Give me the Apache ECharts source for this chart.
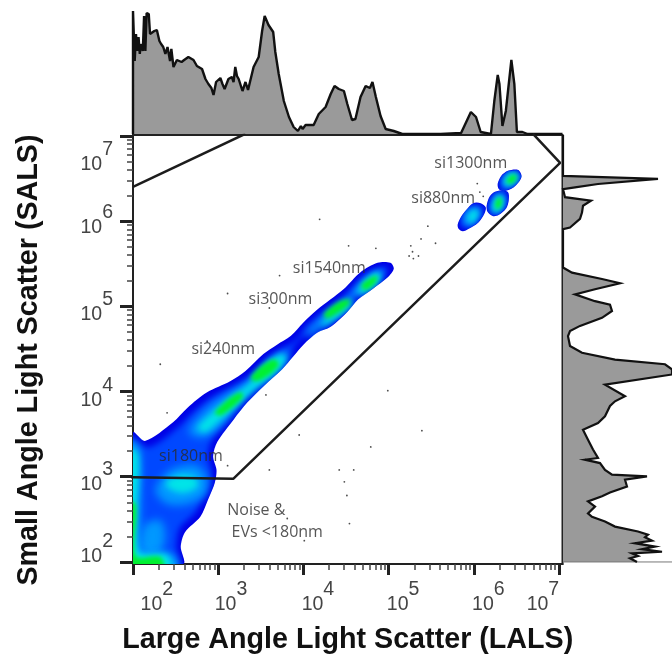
<!DOCTYPE html>
<html><head><meta charset="utf-8">
<style>html,body{margin:0;padding:0;background:#fff}#c{width:672px;height:662px}</style>
<script src="https://cdn.jsdelivr.net/npm/echarts@6/dist/echarts.min.js"></script>
</head><body><div id="c"></div>
<script>
// Axis decades (log10 of scatter signal) and tick labels
const xRange = [2, 7.04];
const yRange = [1.976, 7.01];
const decades = [2, 3, 4, 5, 6, 7];
const minorSteps = [0.301, 0.477, 0.602, 0.699, 0.778, 0.845, 0.903, 0.954];
const xLabelPos = [2.28, 3.15, 4.17, 5.17, 6.17, 6.81];
const yLabelPos = [2.15, 2.99, 3.98, 4.99, 6.0, 6.74];
const exponents = [2, 3, 4, 5, 6, 7];
const xTitle = 'Large Angle Light Scatter (LALS)';
const yTitle = 'Small Angle Light Scatter (SALS)';

// Top histogram: [log10 LALS, counts]
const topHist = [[2,0],[2,123],[2.02,73],[2.035,100],[2.05,83],[2.065,97],[2.08,80],[2.09,90],[2.115,83],[2.13,118],[2.145,83],[2.16,121],[2.185,120],[2.2,100],[2.25,103],[2.28,104],[2.31,93],[2.33,90],[2.355,87],[2.38,80],[2.405,87],[2.435,73],[2.45,85],[2.475,67],[2.515,74],[2.57,72],[2.6,74],[2.65,77],[2.71,74],[2.75,68],[2.77,70],[2.81,65],[2.85,55],[2.885,50],[2.92,46],[2.945,39],[2.975,52],[3.025,56],[3.05,50],[3.075,45],[3.12,55],[3.16,57],[3.18,52],[3.2,67],[3.22,58],[3.24,55],[3.285,43],[3.32,52],[3.35,44],[3.37,43],[3.415,67],[3.475,77],[3.515,103],[3.545,118],[3.59,109],[3.645,102],[3.67,82],[3.71,60],[3.77,33],[3.83,17],[3.885,7],[3.935,3],[3.97,8],[3.99,5],[4.025,9],[4.12,9],[4.18,20],[4.26,27],[4.32,40],[4.365,48],[4.415,45],[4.475,43],[4.515,30],[4.57,14],[4.61,15],[4.67,37],[4.73,48],[4.78,46],[4.81,52],[4.85,37],[4.905,18],[4.965,5],[5.06,3],[5.16,0],[5.61,0],[5.85,1],[5.965,22],[6.025,17],[6.08,2],[6.2,0],[6.24,33],[6.28,59],[6.3,50],[6.335,8],[6.375,23],[6.44,74],[6.475,50],[6.505,2],[6.57,2],[6.63,0],[7.04,0]];

// Right histogram: [counts, log10 SALS]
const rightHist = [[74,2],[67,2.043],[75,2.07],[69,2.1],[99,2.12],[79,2.15],[92,2.18],[72,2.22],[89,2.25],[82,2.29],[85,2.32],[75,2.357],[52,2.415],[42,2.475],[29,2.53],[25,2.57],[32,2.65],[25,2.71],[39,2.77],[47,2.815],[64,2.885],[62,2.965],[84,3.005],[49,3.024],[42,3.08],[37,3.16],[22,3.2],[35,3.22],[30,3.32],[25,3.435],[20,3.55],[35,3.63],[42,3.71],[47,3.83],[52,3.885],[62,3.945],[42,4.08],[109,4.2],[109,4.26],[102,4.32],[52,4.375],[19,4.455],[7,4.535],[5,4.65],[7,4.71],[17,4.77],[39,4.865],[49,4.945],[47,5.02],[32,5.06],[12,5.14],[32,5.2],[57,5.27],[39,5.32],[9,5.395],[0,5.455],[0,5.905],[7,5.925],[17,6.025],[19,6.1],[20,6.18],[28,6.24],[2,6.28],[0,6.375],[12,6.395],[35,6.435],[95,6.495],[0,6.53],[0,7.01]];
const rightBase = [[0,2],[109,2]];

// Gates (log10 LALS, log10 SALS)
const mainGate = [[1.86,2.99],[2,2.994],[3.176,2.976],[7.012,6.682],[6.694,7.024]];
const upperGate = [[2,6.4],[3.318,7.024]];

// Density contours, outer level to peak
const level1 = [
 [[2,1.976],[2,3.52],[2.14,3.42],[2.47,3.64],[2.64,3.81],[2.87,3.99],[3.14,4.12],[3.32,4.24],[3.53,4.44],[3.69,4.55],[3.85,4.65],[4,4.81],[4.16,4.96],[4.47,5.2],[4.67,5.4],[4.87,5.51],[5.02,5.51],[5.06,5.44],[4.99,5.34],[4.82,5.21],[4.64,5.08],[4.52,4.94],[4.32,4.76],[4.16,4.69],[4,4.55],[3.88,4.41],[3.75,4.26],[3.53,4.06],[3.34,3.87],[3.18,3.67],[2.99,3.41],[2.94,3.24],[2.98,3.08],[2.96,2.93],[2.88,2.73],[2.79,2.53],[2.61,2.35],[2.56,2.18],[2.59,1.976]],
 [[5.81,5.96],[5.85,6.05],[5.91,6.13],[5.99,6.21],[6.08,6.21],[6.14,6.16],[6.12,6.08],[6.05,5.98],[5.94,5.91],[5.87,5.88],[5.82,5.91]],
 [[6.15,6.18],[6.18,6.28],[6.24,6.34],[6.32,6.36],[6.4,6.34],[6.41,6.25],[6.38,6.15],[6.29,6.07],[6.22,6.06],[6.16,6.11]],
 [[6.28,6.44],[6.32,6.53],[6.4,6.59],[6.52,6.6],[6.56,6.53],[6.53,6.46],[6.46,6.39],[6.35,6.35],[6.29,6.38]]
];
const level2 = [
 [[1.9,1.9],[1.9,3.4],[2.2,3.35],[2.53,3.58],[2.69,3.74],[2.93,3.93],[3.19,4.06],[3.38,4.18],[3.58,4.38],[3.74,4.49],[3.89,4.59],[4.05,4.75],[4.21,4.91],[4.52,5.14],[4.71,5.34],[4.91,5.45],[4.99,5.45],[4.95,5.38],[4.79,5.26],[4.59,5.12],[4.47,4.98],[4.27,4.81],[4.12,4.74],[3.95,4.6],[3.84,4.46],[3.71,4.31],[3.48,4.11],[3.29,3.92],[3.12,3.69],[2.93,3.44],[2.88,3.24],[2.92,3.08],[2.91,2.93],[2.82,2.75],[2.73,2.58],[2.55,2.4],[2.51,2.18],[2.51,1.9]],
 [[5.85,5.95],[5.9,6.1],[6,6.17],[6.09,6.16],[6.08,6.06],[5.95,5.93]],
 [[6.19,6.16],[6.24,6.3],[6.33,6.33],[6.38,6.25],[6.31,6.11],[6.23,6.09]],
 [[6.32,6.44],[6.38,6.55],[6.5,6.57],[6.54,6.52],[6.46,6.42],[6.36,6.38]]
];
const level3 = [
 [[2.65,3.53],[2.85,3.79],[3.08,3.96],[3.38,4.14],[3.64,4.38],[3.79,4.47],[3.85,4.46],[3.76,4.32],[3.55,4.12],[3.32,3.93],[3.12,3.69],[2.96,3.53],[2.79,3.46]],
 [[4.02,4.69],[4.2,4.85],[4.49,5.08],[4.69,5.29],[4.88,5.41],[4.94,5.4],[4.85,5.28],[4.61,5.12],[4.44,4.94],[4.22,4.76],[4.08,4.65]],
 [[2.26,2.85],[2.44,3.08],[2.73,3.14],[2.87,2.99],[2.85,2.79],[2.61,2.67],[2.38,2.69]],
 [[2.08,2.2],[2.14,2.44],[2.32,2.49],[2.38,2.32],[2.32,2.11],[2.14,2.08]],
 [[1.9,3.44],[2.07,3.38],[2.09,2.49],[2.11,2.12],[2.49,2.08],[2.53,1.9],[1.9,1.9]],
 [[5.87,6],[5.93,6.13],[6.01,6.16],[6.07,6.13],[6.04,6.04],[5.94,5.95]],
 [[6.2,6.16],[6.25,6.29],[6.32,6.33],[6.36,6.27],[6.32,6.15],[6.25,6.09]],
 [[6.33,6.45],[6.39,6.54],[6.48,6.56],[6.53,6.53],[6.47,6.45],[6.38,6.41]]
];
const level4 = [
 [[2.76,3.58],[3.08,3.87],[3.35,4.08],[3.59,4.35],[3.75,4.44],[3.8,4.38],[3.67,4.21],[3.44,4.04],[3.2,3.82],[2.96,3.61],[2.84,3.52]],
 [[4.22,4.81],[4.45,5.02],[4.58,5.08],[4.55,4.99],[4.38,4.85],[4.22,4.76]],
 [[4.62,5.16],[4.81,5.38],[4.91,5.39],[4.88,5.28],[4.69,5.14]],
 [[2.38,2.93],[2.55,3.02],[2.73,2.99],[2.76,2.88],[2.59,2.81],[2.44,2.85]],
 [[1.9,3.32],[2.06,3.27],[2.06,2.13],[2.4,2.09],[2.44,1.9],[1.9,1.9]],
 [[5.92,6.03],[5.98,6.13],[6.05,6.13],[6.04,6.04],[5.96,5.97]],
 [[6.22,6.17],[6.27,6.29],[6.33,6.3],[6.35,6.21],[6.29,6.11],[6.22,6.11]],
 [[6.35,6.45],[6.4,6.55],[6.49,6.57],[6.53,6.52],[6.46,6.44],[6.38,6.4]]
];
const level5 = [
 [[2.96,3.75],[3.12,3.91],[3.26,3.99],[3.29,3.94],[3.16,3.81],[3.02,3.72]],
 [[3.38,4.16],[3.52,4.31],[3.66,4.38],[3.71,4.31],[3.59,4.19],[3.45,4.12]],
 [[4.24,4.91],[4.41,5.05],[4.54,5.08],[4.52,5.01],[4.35,4.89],[4.27,4.86]],
 [[4.68,5.25],[4.82,5.35],[4.87,5.35],[4.84,5.27],[4.72,5.19]],
 [[1.9,2.73],[2.03,2.67],[2.03,2.07],[2.32,2.06],[2.36,1.9],[1.9,1.9]],
 [[6.25,6.19],[6.28,6.27],[6.32,6.27],[6.32,6.18],[6.27,6.14]],
 [[6.38,6.46],[6.43,6.53],[6.49,6.54],[6.5,6.5],[6.44,6.44]]
];

// Sparse events
const events = [[4.19,6.02],[4.53,5.71],[4.85,5.68],[5.46,5.94],[5.38,5.79],[5.26,5.71],[5.55,5.74],[5.28,5.64],[5.24,5.59],[5.29,5.56],[5.35,5.59],[6.04,6.44],[6.07,6.34],[6.11,6.29],[3.72,5.36],[3.11,5.15],[3.6,4.98],[2.87,4.59],[2.32,4.32],[3.56,3.96],[2.4,3.75],[3.95,3.49],[3.11,3.13],[3.6,3.08],[4.42,3.08],[4.48,2.94],[4.51,2.78],[4.54,2.45],[3.81,2.51],[4.01,2.25],[4.59,3.08],[4.99,4.01],[5.39,3.54],[4.79,3.35]];

// Population labels: [log10 LALS, log10 SALS, text]
const annotations = [[5.53,6.68,'si1300nm'],[5.26,6.27,'si880nm'],[3.87,5.45,'si1540nm'],[3.35,5.08,'si300nm'],[2.68,4.49,'si240nm'],[2.3,3.24,'si180nm'],[3.1,2.61,'Noise &'],[3.15,2.35,'EVs <180nm']];

const minorTicks = decades.slice(0, -1).flatMap(d => minorSteps.map(s => d + s));
const tickColor = '#222';
const labelFont = 'Liberation Sans, Arial, sans-serif';
const powRich = {
  b: {fontFamily: labelFont, fontSize: 19.5, color: '#444', lineHeight: 36, verticalAlign: 'bottom', height: 22},
  s: {fontFamily: labelFont, fontSize: 19.5, color: '#444', padding: [0, 0, 16, 0], verticalAlign: 'top'}
};
const powLabel = (pos) => (v) => {
  const i = pos.findIndex(p => Math.abs(p - v) < 1e-6);
  return '{b|10}{s|' + exponents[i] + '}';
};

// Soft contours are painted as the blurred shadow of a polygon parked off-canvas,
// and held inside the hard outer contour.
const shadowShift = 3000;
function contour(name, polys, color, blur, z) {
  return {
    type: 'custom', name, coordinateSystem: 'cartesian2d', xAxisIndex: 0, yAxisIndex: 0,
    silent: true, clip: true, z,
    data: polys.map(p => p[0]),
    renderItem: (params, api) => {
      const pts = polys[params.dataIndex].map(p => api.coord(p));
      if (!blur) return {type: 'polygon', shape: {points: pts, smooth: 0.3}, style: {fill: color}};
      const outline = level1.map(poly =>
        poly.map((p, i) => {
          const c = api.coord(p);
          return (i ? 'L' : 'M') + c[0].toFixed(1) + ' ' + c[1].toFixed(1);
        }).join(' ') + ' Z').join(' ');
      return {
        type: 'polygon',
        shape: {points: pts.map(p => [p[0] - shadowShift, p[1]]), smooth: 0.3},
        style: {fill: '#000', shadowBlur: blur, shadowColor: color, shadowOffsetX: shadowShift},
        clipPath: {type: 'path', shape: {pathData: outline}}
      };
    }
  };
}

const chart = echarts.init(document.getElementById('c'), null, {renderer: 'canvas'});
chart.setOption({
  animation: false,
  backgroundColor: '#fff',
  grid: [
    {left: 133, top: 135, width: 429.5, height: 429, show: true, borderColor: '#222', borderWidth: 2, backgroundColor: '#fff', z: 0},
    {left: 133, top: 9, width: 429.5, height: 125},
    {left: 563, top: 135, width: 109, height: 429}
  ],
  xAxis: [
    {type: 'value', gridIndex: 0, min: xRange[0], max: xRange[1], position: 'bottom', splitLine: {show: false},
     axisLine: {show: true, lineStyle: {color: '#222', width: 2}},
     axisTick: {show: true, customValues: decades, length: 11, lineStyle: {color: tickColor, width: 3}},
     axisLabel: {show: true, customValues: xLabelPos, formatter: powLabel(xLabelPos), rich: powRich, margin: 16, hideOverlap: false},
     name: xTitle, nameLocation: 'middle', nameGap: 62,
     nameTextStyle: {fontFamily: labelFont, fontWeight: 'bold', fontSize: 28.7, color: '#111'}},
    {type: 'value', gridIndex: 0, min: xRange[0], max: xRange[1], position: 'bottom', splitLine: {show: false},
     axisLine: {show: false}, axisLabel: {show: false},
     axisTick: {show: true, customValues: minorTicks, length: 6, lineStyle: {color: '#444', width: 1.5}}},
    {type: 'value', gridIndex: 1, min: xRange[0], max: xRange[1], show: false},
    {type: 'value', gridIndex: 2, min: 0, max: 109, show: false}
  ],
  yAxis: [
    {type: 'value', gridIndex: 0, min: yRange[0], max: yRange[1], position: 'left', splitLine: {show: false},
     axisLine: {show: true, lineStyle: {color: '#222', width: 2}},
     axisTick: {show: true, customValues: decades, length: 13, lineStyle: {color: tickColor, width: 3}},
     axisLabel: {show: true, customValues: yLabelPos, formatter: powLabel(yLabelPos), rich: powRich, margin: 20, hideOverlap: false},
     name: yTitle, nameLocation: 'middle', nameGap: 89, nameRotate: 90,
     nameTextStyle: {fontFamily: labelFont, fontWeight: 'bold', fontSize: 28.7, color: '#111', padding: [0, 21, 0, 0]}},
    {type: 'value', gridIndex: 0, min: yRange[0], max: yRange[1], position: 'left', splitLine: {show: false},
     axisLine: {show: false}, axisLabel: {show: false},
     axisTick: {show: true, customValues: minorTicks, length: 6, lineStyle: {color: '#444', width: 1.5}}},
    {type: 'value', gridIndex: 1, min: 0, max: 125, show: false},
    {type: 'value', gridIndex: 2, min: yRange[0], max: yRange[1], show: false}
  ],
  series: [
    contour('density1', level1, '#0000e6', 0, 2),
    contour('density2', level2, '#0048ff', 6, 3),
    contour('density3', level3, '#0098ff', 8, 4),
    contour('density4', level4, '#00e4e8', 6, 5),
    contour('density5', level5, '#00f030', 4, 6),
    {type: 'line', name: 'mainGate', xAxisIndex: 0, yAxisIndex: 0, data: mainGate, symbol: 'none', clip: false, silent: true, z: 8,
     lineStyle: {color: '#1c1c1c', width: 2.5}},
    {type: 'line', name: 'upperGate', xAxisIndex: 0, yAxisIndex: 0, data: upperGate, symbol: 'none', silent: true, z: 8,
     lineStyle: {color: '#1c1c1c', width: 2.5}},
    {type: 'scatter', name: 'events', xAxisIndex: 0, yAxisIndex: 0, data: events, symbolSize: 1.8, silent: true, z: 9,
     itemStyle: {color: '#222'}},
    {type: 'scatter', name: 'labels', xAxisIndex: 0, yAxisIndex: 0, data: annotations, symbolSize: 1, silent: true, z: 10,
     itemStyle: {color: 'transparent'},
     label: {show: true, position: 'right', distance: 0, formatter: p => p.data[2], color: '#2a2a2a', fontFamily: 'Open Sans, sans-serif', fontSize: 16}},
    {type: 'line', name: 'topHistogram', xAxisIndex: 2, yAxisIndex: 2, data: topHist, symbol: 'none', silent: true,
     lineStyle: {color: '#111', width: 2.4}, areaStyle: {color: '#9a9a9a', opacity: 1}},
    {type: 'custom', name: 'rightHistogram', coordinateSystem: 'cartesian2d', xAxisIndex: 3, yAxisIndex: 3, silent: true, clip: false,
     data: rightHist,
     renderItem: (params, api) => {
       if (params.dataIndex !== 0) return null;
       const pts = rightHist.map(p => api.coord(p));
       const base = api.coord(rightBase[0]);
       const base2 = api.coord(rightBase[1]);
       return {type: 'group', children: [
         {type: 'polygon', shape: {points: [base].concat(pts)}, style: {fill: '#9a9a9a', stroke: null}},
         {type: 'polyline', shape: {points: [base, base2]}, style: {fill: null, stroke: '#777', lineWidth: 1}},
         {type: 'polyline', shape: {points: pts}, style: {fill: null, stroke: '#111', lineWidth: 2.2}}
       ]};
     }}
  ]
});
</script></body></html>
